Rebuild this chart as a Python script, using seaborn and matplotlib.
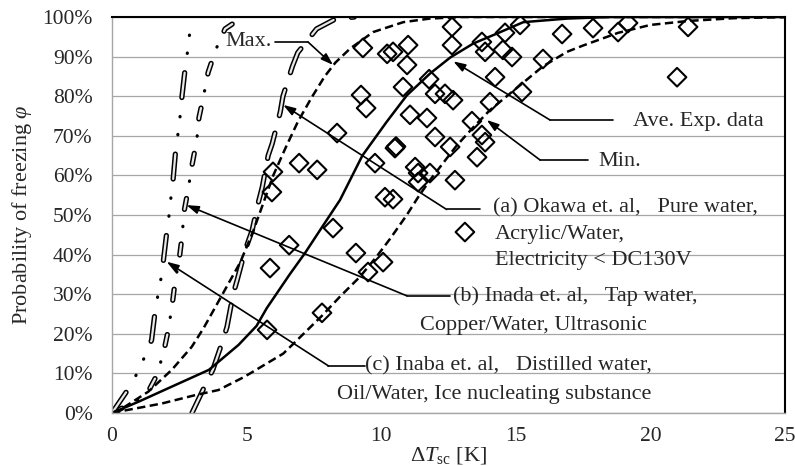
import seaborn as sns
import matplotlib.pyplot as plt
import matplotlib.patheffects as pe
from matplotlib.ticker import FuncFormatter

# experimental points: supercooling degree [K] and probability of freezing [%]
exp_dt = [9.32, 10.22, 10.44, 11.0, 10.96, 10.81, 11.78, 12.0, 12.37, 9.25,
          9.44, 12.63, 12.63, 13.74, 13.86, 14.6, 15.16, 14.52, 14.86, 16.01,
          16.72, 14.23, 15.23, 12.67, 14.04, 13.37, 11.07, 11.7, 8.36, 10.51,
          10.55, 12.0, 12.56, 9.77, 11.26, 11.37, 11.81, 11.37, 12.74, 10.14,
          10.44, 5.98, 5.94, 6.95, 7.62, 8.21, 6.58, 5.87, 9.06, 9.51,
          10.07, 7.8, 5.76, 13.11, 13.74, 13.86, 13.56, 17.87, 18.8, 19.17,
          21.4, 20.99]
exp_phi = [92.2, 90.7, 91.2, 92.9, 87.9, 82.3, 84.3, 80.6, 80.6, 80.3,
           77.0, 97.5, 92.9, 93.7, 91.2, 96.0, 98.0, 91.7, 89.9, 89.4,
           95.7, 84.8, 81.1, 79.0, 78.5, 73.7, 75.3, 74.5, 70.7, 66.9,
           67.3, 69.7, 67.2, 63.1, 62.1, 60.6, 60.6, 58.3, 58.8, 54.5,
           54.0, 60.9, 55.8, 63.1, 61.4, 46.7, 42.4, 36.6, 40.4, 35.6,
           38.1, 25.3, 21.0, 45.7, 70.2, 68.4, 64.6, 97.2, 96.2, 98.5,
           97.5, 84.8]

# curves
ave_dt = [0, 1.0, 2.2, 3.6, 4.7, 5.37, 5.75, 6.6, 7.17, 7.73, 8.47, 9.3,
          10.2, 10.95, 11.81, 12.57, 13.42, 14.29, 15.28, 16.9, 18.5, 25]
ave_phi = [0, 2.9, 6.6, 10.9, 17.2, 22.0, 26.5, 35.0, 40.4, 46.2, 53.8, 65,
           73.5, 80.2, 85.7, 89.8, 93.3, 95.8, 98.7, 99.6, 100, 100]

max_dt = [0, 0.48, 1.35, 2.22, 2.96, 3.39, 3.9, 4.76, 5.25, 5.62, 5.99, 6.45,
          6.9, 7.4, 7.9, 8.3, 8.84, 9.7, 10.82, 11.8, 13, 25]
max_phi = [0, 1.6, 5.4, 10.9, 16.7, 21.3, 27.5, 38, 46, 53, 60, 67,
           73.5, 79.5, 85, 88.5, 92, 96.2, 98.7, 99.6, 100, 100]

min_dt = [0, 0.6, 1.85, 3.08, 3.95, 4.82, 5.13, 6.36, 6.74, 7.79, 8.47, 9.21,
          9.83, 10.33, 10.95, 11.38, 11.81, 12.4, 12.8, 13.4, 14.04, 15.2,
          16.0, 16.9, 17.5, 18.8, 20, 21.4, 23.1, 25]
min_phi = [0, 0.8, 2.4, 4.5, 5.8, 8.8, 10, 15, 17.5, 24.5, 29.4, 34.4,
           39.5, 44, 50, 54.6, 58.8, 64, 67.5, 72, 76.5, 83,
           87.5, 91.2, 92.8, 96, 98, 99, 99.7, 100]

# (a) Okawa
okawa_dt = [2.97, 3.46, 3.75, 4.1, 4.27, 4.5, 4.65, 4.94, 5.2, 5.43, 5.58,
            5.8, 5.95, 6.25, 6.35, 6.7, 6.9, 7.6, 8.3, 9.0]
okawa_phi = [0, 7, 11, 18, 21.7, 30, 33.6, 41, 46, 53, 57,
             65, 68, 76, 80, 87.5, 91, 97, 99.5, 100]

# (b) Inada
inada_dt = [0, 0.9, 1.35, 1.66, 1.92, 2.09, 2.23, 2.34, 2.5, 2.6, 2.68,
            2.83, 2.97, 3.15, 3.23, 3.4, 3.57, 3.85, 4.2, 4.7, 5.0]
inada_phi = [0, 3, 5.5, 9.5, 15.4, 21, 27, 33, 39, 44.5, 51,
             56.5, 62.5, 69, 74.6, 80, 86, 91.7, 97, 99.3, 100]

# (c) Inaba
inaba_dt = [0, 0.6, 0.93, 1.2, 1.47, 1.6, 1.71, 1.82, 1.9, 2.04, 2.12,
            2.19, 2.27, 2.36, 2.45, 2.53, 2.6, 2.7, 2.8, 2.88, 2.97]
inaba_phi = [0, 6, 10, 14, 18.4, 25.6, 30, 34, 38, 46, 50,
             54.5, 59, 66, 70.5, 75, 80, 86, 91, 95.6, 100]

sns.set_theme(style="white")
plt.rcParams["font.family"] = ["Liberation Serif", "DejaVu Serif"]
plt.rcParams["mathtext.fontset"] = "custom"
plt.rcParams["mathtext.rm"] = "Liberation Serif"
plt.rcParams["mathtext.it"] = "Liberation Serif:italic"
plt.rcParams["lines.scale_dashes"] = False

fig = plt.figure(figsize=(7.95, 4.66), dpi=100)
ax = fig.add_axes([0.1409, 0.1137, 0.8465, 0.8498])

ax.yaxis.grid(True, color="#a6a6a6", lw=0.9)
ax.set_axisbelow(True)

# hollow long dashes
hollow = dict(color="#e8e8e8", lw=1.6, dash_capstyle="round",
              path_effects=[pe.Stroke(linewidth=3.8, foreground="black"), pe.Normal()])

sns.lineplot(x=okawa_dt, y=okawa_phi, ax=ax, sort=False, estimator=None,
             linestyle=(0, (19, 13)), **hollow)
sns.lineplot(x=inada_dt, y=inada_phi, ax=ax, sort=False, estimator=None,
             linestyle=(0, (8, 25)), **hollow)
sns.lineplot(x=inada_dt, y=inada_phi, ax=ax, sort=False, estimator=None,
             color="black", lw=2.3, dash_capstyle="round",
             linestyle=(12.5, (0.3, 32.7)))
sns.lineplot(x=inaba_dt, y=inaba_phi, ax=ax, sort=False, estimator=None,
             linestyle=(0, (18, 41)), **hollow)
sns.lineplot(x=inaba_dt, y=inaba_phi, ax=ax, sort=False, estimator=None,
             color="black", lw=2.3, dash_capstyle="round",
             linestyle=(27, (0.3, 12.7, 0.3, 45.7)))

sns.lineplot(x=max_dt, y=max_phi, ax=ax, sort=False, estimator=None,
             color="black", lw=1.8, linestyle=(0, (6, 3.2)))
sns.lineplot(x=min_dt, y=min_phi, ax=ax, sort=False, estimator=None,
             color="black", lw=1.8, linestyle=(0, (6, 3.2)))
sns.lineplot(x=ave_dt, y=ave_phi, ax=ax, sort=False, estimator=None,
             color="black", lw=1.8)

sns.scatterplot(x=exp_dt, y=exp_phi, ax=ax, marker="D", s=90,
                facecolor="none", edgecolor="black", linewidth=1.5, zorder=3)

# annotations
fs = 16
arrow = dict(arrowstyle="-|>,head_length=0.6,head_width=0.2", color="black",
             lw=1.2, shrinkA=0, shrinkB=0)


def callout(head, corner, end):
    ax.annotate("", xy=head, xytext=corner, arrowprops=arrow)
    ax.plot([corner[0], end], [corner[1], corner[1]], color="black", lw=1.2)


callout((8.21, 87.9), (7.28, 93.7), 6.06)
ax.text(5.94, 93.7, "Max.", ha="right", va="center", fontsize=fs)

callout((12.68, 88.8), (16.27, 74.0), 18.6)
ax.text(19.35, 73.6, "Ave. Exp. data", ha="left", va="center", fontsize=fs)

callout((13.92, 74.0), (15.9, 63.9), 17.68)
ax.text(18.05, 63.5, "Min.", ha="left", va="center", fontsize=fs)

callout((6.36, 77.8), (12.43, 51.4), 13.67)
ax.text(14.15, 51.8, "(a) Okawa et. al,   Pure water,", ha="left", va="center", fontsize=fs)
ax.text(14.22, 45.2, "Acrylic/Water,", ha="left", va="center", fontsize=fs)
ax.text(14.22, 38.6, "Electricity < DC130V", ha="left", va="center", fontsize=fs)

callout((2.77, 52.5), (10.95, 29.6), 12.56)
ax.text(12.67, 29.4, "(b) Inada et. al,   Tap water,", ha="left", va="center", fontsize=fs)
ax.text(11.44, 22.2, "Copper/Water, Ultrasonic", ha="left", va="center", fontsize=fs)

callout((2.03, 38.2), (8.04, 11.9), 9.4)
ax.text(9.4, 11.8, "(c) Inaba et. al,   Distilled water,", ha="left", va="center", fontsize=fs)
ax.text(8.36, 4.6, "Oil/Water, Ice nucleating substance", ha="left", va="center", fontsize=fs)

ax.set_xlim(0, 25)
ax.set_ylim(0, 100)
ax.set_xticks([0, 5, 10, 15, 20, 25])
ax.set_yticks(range(0, 101, 10))
ax.yaxis.set_major_formatter(FuncFormatter(lambda v, p: f"{v:.0f}%"))
ax.tick_params(axis="x", direction="in", length=4, color="#a6a6a6", pad=10, labelsize=15.5)
ax.tick_params(axis="y", length=0, pad=14, labelsize=15.5)

for side in ["top", "right"]:
    ax.spines[side].set_color("black")
    ax.spines[side].set_linewidth(1.5)
for side in ["left", "bottom"]:
    ax.spines[side].set_color("#a6a6a6")
    ax.spines[side].set_linewidth(1.0)

ax.set_ylabel(r"Probability of freezing $\varphi$", fontsize=16)
ax.yaxis.set_label_coords(-0.116, 0.5)
ax.set_xlabel(r"$\mathit{\Delta T}_{\mathrm{sc}}$ [K]", fontsize=16)
ax.xaxis.set_label_coords(0.5, -0.08)

fig.savefig("out.png", dpi=100)
